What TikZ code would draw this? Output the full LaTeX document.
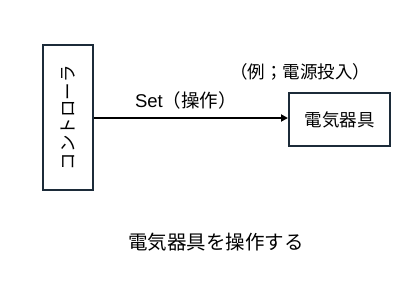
\documentclass[tikz,border=0pt]{standalone}
\usepackage{fontspec}
\setmainfont{Noto Sans CJK JP}
\newfontfamily\latinfont{Liberation Sans}
\usetikzlibrary{arrows.meta}
\definecolor{boxline}{HTML}{1C2B39}
\tikzset{
  boxstyle/.style={draw=boxline, line width=2pt, fill=white, inner sep=0pt},
  lbl/.style={font=\fontsize{17.5}{20}\selectfont, inner sep=0pt},
  conn/.style={line width=1.8pt, -{Triangle[length=7pt,width=7pt]}}
}
\begin{document}
\begin{tikzpicture}[x=1pt,y=-1pt]
\useasboundingbox (0,0) rectangle (415,297);
\node[boxstyle, lbl, rotate=90, minimum width=145pt, minimum height=50pt] (ctrl) at (68,117.5) {コントローラ};
\node[boxstyle, lbl, minimum width=101pt, minimum height=53pt] (dev) at (339.5,119.5) {電気器具};
\draw[conn] (ctrl.south |- 0,118) -- (dev.west |- 0,118);
\node[lbl, font=\fontsize{18.5}{21}\selectfont] (set) at (186,100) {{\latinfont Set}（操作）};
\node[lbl] (ex) at (300,72) {（例；電源投入）};
\node[lbl, font=\fontsize{19.5}{22}\selectfont] (cap) at (216,242) {電気器具を操作する};
\end{tikzpicture}
\end{document}
